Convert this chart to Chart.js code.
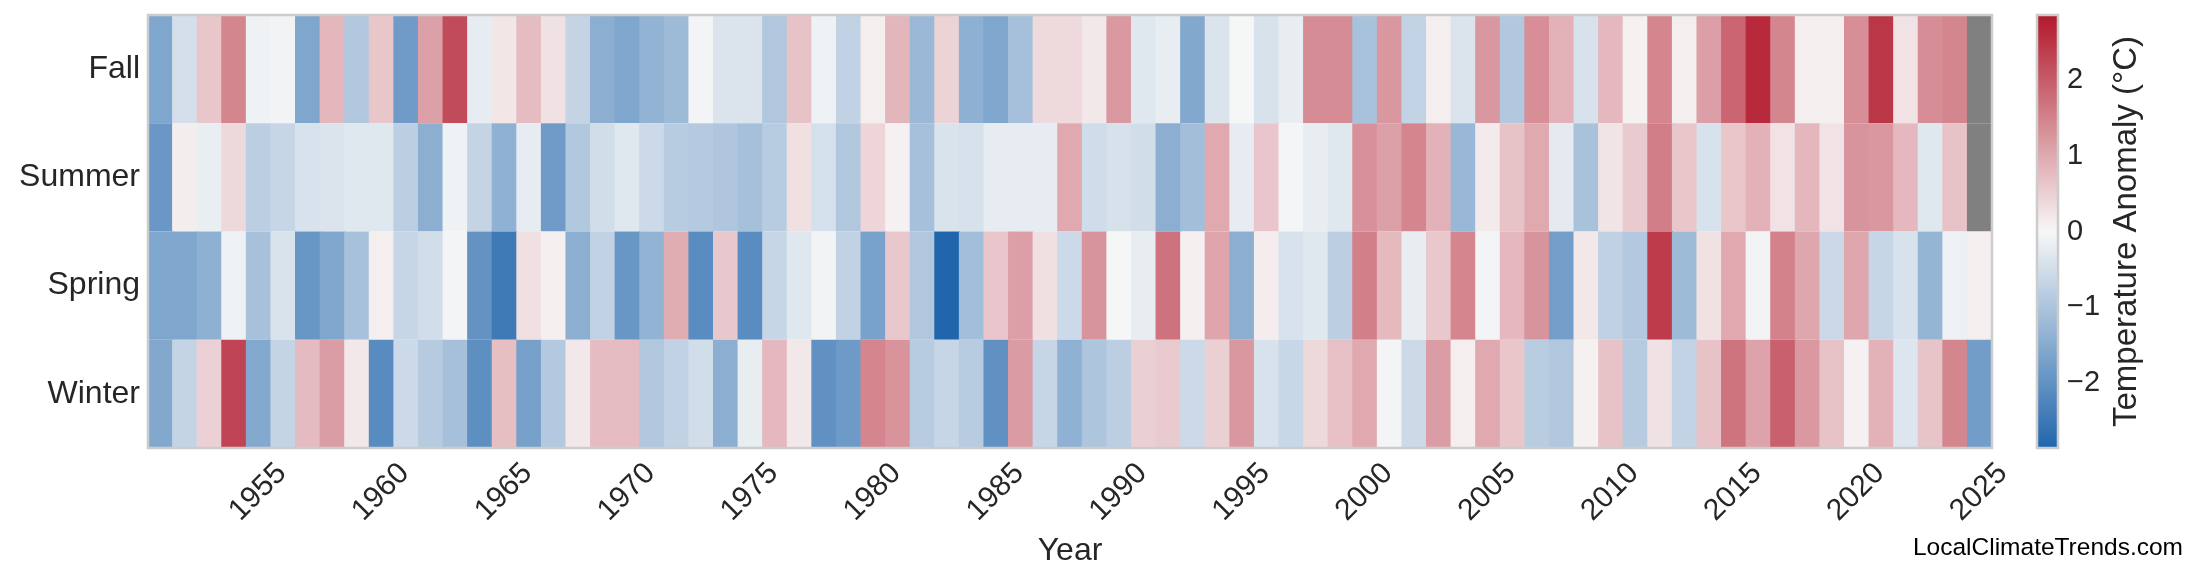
<!DOCTYPE html>
<html>
<head>
<meta charset="utf-8">
<script src="https://cdn.jsdelivr.net/npm/chart.js@4.4.0/dist/chart.umd.min.js"></script>
<style>
  body { margin: 0; background: #ffffff; }
  #wrap { position: relative; width: 2200px; height: 585px; }
  #wrap canvas { position: absolute; left: 0; top: 0; }
</style>
</head>
<body>
<div id="wrap">
  <canvas id="heat" width="2200" height="585"></canvas>
  <canvas id="cbar" width="2200" height="585"></canvas>
</div>
<script>
// seasonal temperature anomalies (degC), one value per year 1951..2025
var firstYear = 1951, lastYear = 2025;
var years = [];
for (var y = firstYear; y <= lastYear; y++) years.push(y);

var seasons = ['Winter', 'Spring', 'Summer', 'Fall'];  // bottom to top

var winter = [
  -1.56, -0.68, 0.48, 2.28, -1.53, -0.68, 0.77, 1.15, 0.2, -2.12,
  -0.58, -0.86, -1.08, -2.05, 0.72, -1.7, -0.9, 0.2, 0.75, 0.75,
  -0.95, -0.72, -0.5, -1.43, -0.2, 0.8, 0.2, -2.0, -1.82, 1.46,
  1.28, -0.85, -0.65, -0.84, -2.0, 1.18, -0.65, -1.38, -0.98, -0.8,
  0.5, 0.57, -0.58, 0.5, 1.23, -0.42, -0.62, 0.4, 0.7, 1.0,
  -0.05, -0.57, 1.15, 0.11, 1.0, 0.63, -0.82, -0.95, 0.08, 0.67,
  -0.86, 0.27, -0.7, 0.68, 1.68, 1.08, 1.93, 1.2, 0.67, 0.09,
  0.88, -0.35, 0.65, 1.45, -1.77
];
var spring = [
  -1.6, -1.6, -1.4, -0.13, -1.06, -0.4, -1.9, -1.6, -1.06, 0.12,
  -0.65, -0.5, -0.06, -1.96, -2.45, 0.3, 0.1, -1.43, -0.72, -1.9,
  -1.34, 0.95, -2.1, 0.6, -2.1, -0.65, -0.32, -0.08, -0.72, -1.68,
  0.6, -0.95, -2.85, -1.12, 0.62, 1.12, 0.3, -0.58, 1.26, -0.02,
  -0.2, 1.7, 0.1, 1.05, -1.43, 0.14, -0.42, -0.32, -0.8, 1.53,
  0.78, -0.2, 0.6, 1.46, -0.06, 0.8, 1.26, -1.74, 0.2, -0.75,
  -0.9, 2.4, -1.2, 0.28, 1.0, -0.08, 1.5, 1.03, -0.6, 1.04,
  -0.65, -0.42, -1.3, -0.13, 0.11
];
var summer = [
  -1.88, 0.13, -0.18, 0.4, -0.78, -0.65, -0.42, -0.37, -0.32, -0.32,
  -0.8, -1.43, -0.1, -0.68, -1.38, -0.22, -1.8, -0.93, -0.5, -0.32,
  -0.58, -0.84, -0.88, -0.96, -1.08, -0.84, 0.3, -0.46, -0.95, 0.43,
  0.09, -1.08, -0.4, -0.44, -0.22, -0.22, -0.22, 1.0, -0.53, -0.44,
  -0.5, -1.43, -1.13, 1.0, -0.22, 0.62, -0.04, -0.2, -0.32, 1.3,
  1.1, 1.46, 0.88, -1.25, 0.16, 0.68, 1.0, -0.25, -1.05, 0.24,
  0.57, 1.55, 0.63, -0.42, 0.63, 0.88, 0.25, 0.82, 0.25, 1.27,
  1.23, 0.8, -0.3, 0.68, null
];
var fall = [
  -1.6, -0.47, 0.63, 1.45, -0.1, -0.08, -1.6, 0.82, -0.95, 0.63,
  -1.8, 1.1, 2.2, -0.22, 0.22, 0.75, 0.27, -0.68, -1.43, -1.6,
  -1.34, -1.2, -0.05, -0.37, -0.37, -0.95, 0.67, -0.1, -0.72, 0.11,
  0.83, -1.22, 0.46, -1.4, -1.6, -1.08, 0.38, 0.38, 0.2, 1.2,
  -0.3, -0.2, -1.56, -0.37, -0.02, -0.42, -0.2, 1.37, 1.37, -1.05,
  1.22, -0.7, 0.11, -0.37, 1.22, -0.93, 1.34, 0.88, -0.42, 0.8,
  0.08, 1.46, 0.12, 1.12, 1.87, 2.62, 1.45, 0.11, 0.11, 1.34,
  2.47, 0.25, 1.36, 1.45, null
];
var seasonValues = [winter, spring, summer, fall];

var cbarTicks = [-2, -1, 0, 1, 2];
var vmax = 2.85;

var fontFamily = '"Liberation Sans", Arial, Helvetica, sans-serif';
var textColor = '#262626';
var lowColor = [33, 102, 172], midColor = [247, 247, 247], highColor = [178, 24, 43];

function anomalyColor(v) {
  if (v === null) return '#808080';
  var t = Math.max(-1, Math.min(1, v / vmax));
  var end = t < 0 ? lowColor : highColor;
  var a = Math.abs(t);
  var c = midColor.map(function(m, k) { return Math.round(m + (end[k] - m) * a); });
  return 'rgb(' + c.join(',') + ')';
}

function rgb(c) { return 'rgb(' + c.join(',') + ')'; }

// labels must not push the plot area around
function noPadding(scale) {
  scale.paddingTop = 0;
  scale.paddingBottom = 0;
  scale.paddingLeft = 0;
  scale.paddingRight = 0;
}

var framePlugin = {
  id: 'frame',
  afterDraw: function(chart) {
    var a = chart.chartArea, ctx = chart.ctx;
    ctx.save();
    ctx.strokeStyle = '#cccccc';
    ctx.lineWidth = 2.5;
    ctx.strokeRect(a.left, a.top, a.right - a.left, a.bottom - a.top);
    ctx.restore();
  }
};

// heatmap: one floating bar per season and year
var datasets = seasons.map(function(name, r) {
  return {
    label: name,
    data: years.map(function() { return [r, r + 1]; }),
    backgroundColor: seasonValues[r].map(anomalyColor),
    borderWidth: 0,
    barPercentage: 1.04,
    categoryPercentage: 1,
    grouped: false
  };
});

new Chart(document.getElementById('heat').getContext('2d'), {
  type: 'bar',
  data: { labels: years, datasets: datasets },
  options: {
    responsive: false,
    animation: false,
    devicePixelRatio: 1,
    layout: { padding: { left: 0, top: 15, right: 208, bottom: 0 } },
    plugins: { legend: { display: false }, tooltip: { enabled: false } },
    scales: {
      x: {
        type: 'category',
        grid: { display: false, drawTicks: false },
        border: { display: false },
        ticks: {
          autoSkip: false,
          minRotation: 45,
          maxRotation: 45,
          padding: 8,
          labelOffset: 23,
          color: textColor,
          font: { family: fontFamily, size: 30 },
          callback: function(v, i) { return years[i] % 5 === 0 ? String(years[i]) : null; }
        },
        title: {
          display: true,
          text: 'Year',
          color: textColor,
          font: { family: fontFamily, size: 32 },
          padding: { top: 0, bottom: 15 }
        },
        afterFit: function(scale) { scale.height = 137; noPadding(scale); }
      },
      y: {
        min: 0,
        max: 4,
        grid: { display: false, drawTicks: false },
        border: { display: false },
        afterBuildTicks: function(scale) {
          scale.ticks = seasons.map(function(s, r) { return { value: r + 0.5 }; });
        },
        ticks: {
          padding: 8,
          color: textColor,
          font: { family: fontFamily, size: 32 },
          callback: function(v) { return seasons[Math.floor(v)]; }
        },
        afterFit: function(scale) { scale.width = 148; noPadding(scale); }
      }
    }
  },
  plugins: [framePlugin]
});

// colorbar
var colorbarPlugin = {
  id: 'colorbar',
  beforeDatasetsDraw: function(chart) {
    var a = chart.chartArea, ctx = chart.ctx, ys = chart.scales.y;
    var top = ys.getPixelForValue(vmax), bottom = ys.getPixelForValue(-vmax);
    var g = ctx.createLinearGradient(0, top, 0, bottom);
    g.addColorStop(0, rgb(highColor));
    g.addColorStop(0.5, rgb(midColor));
    g.addColorStop(1, rgb(lowColor));
    ctx.save();
    ctx.fillStyle = g;
    ctx.fillRect(a.left, top, a.right - a.left, bottom - top);
    ctx.restore();
  },
  afterDraw: function(chart) {
    var a = chart.chartArea, ctx = chart.ctx;
    ctx.save();
    ctx.strokeStyle = '#cccccc';
    ctx.lineWidth = 2.5;
    ctx.strokeRect(a.left, a.top, a.right - a.left, a.bottom - a.top);
    // colorbar label, reading upwards
    ctx.translate(2136, (a.top + a.bottom) / 2);
    ctx.rotate(-Math.PI / 2);
    ctx.fillStyle = textColor;
    ctx.font = '33px ' + fontFamily;
    ctx.textAlign = 'center';
    ctx.textBaseline = 'alphabetic';
    ctx.fillText('Temperature Anomaly (\u00b0C)', 0, 0);
    ctx.restore();
    // site credit
    ctx.save();
    ctx.fillStyle = '#000000';
    ctx.font = '24.5px ' + fontFamily;
    ctx.textAlign = 'right';
    ctx.textBaseline = 'alphabetic';
    ctx.fillText('LocalClimateTrends.com', 2183, 555);
    ctx.restore();
  }
};

new Chart(document.getElementById('cbar').getContext('2d'), {
  type: 'bar',
  data: { labels: [''], datasets: [] },
  options: {
    responsive: false,
    animation: false,
    devicePixelRatio: 1,
    layout: { padding: { left: 2037, top: 15, right: 0, bottom: 137 } },
    plugins: { legend: { display: false }, tooltip: { enabled: false } },
    scales: {
      x: { display: false },
      y: {
        position: 'right',
        min: -vmax,
        max: vmax,
        grid: { display: false, drawTicks: false },
        border: { display: false },
        afterBuildTicks: function(scale) {
          scale.ticks = cbarTicks.map(function(v) { return { value: v }; });
        },
        ticks: {
          padding: 9,
          color: textColor,
          font: { family: fontFamily, size: 29 },
          callback: function(v) { return v < 0 ? '\u2212' + Math.abs(v) : String(v); }
        },
        afterFit: function(scale) { scale.width = 142; noPadding(scale); }
      }
    }
  },
  plugins: [colorbarPlugin]
});
</script>
</body>
</html>
